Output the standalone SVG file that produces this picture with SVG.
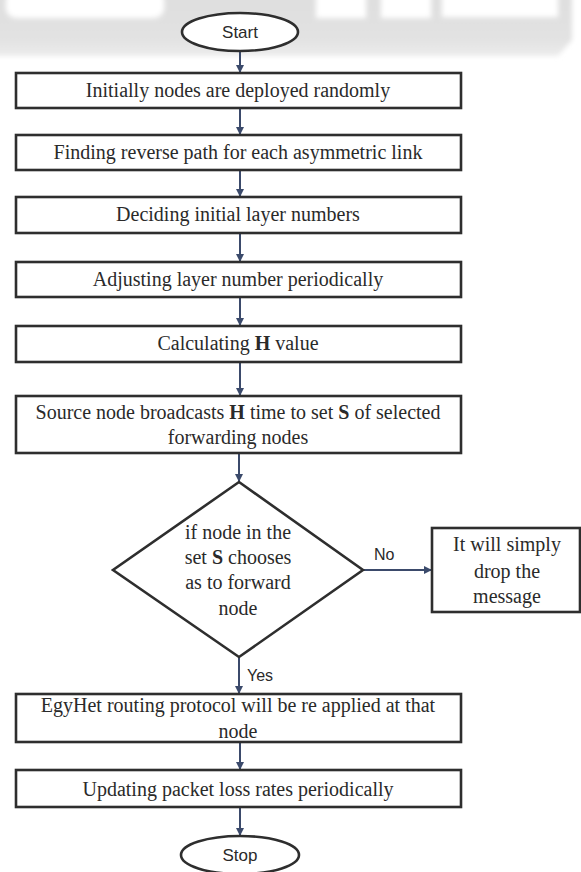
<svg xmlns="http://www.w3.org/2000/svg" width="581" height="872" viewBox="0 0 581 872">
<defs>
<style>
.box{fill:#fff;stroke:#2e2e2e;stroke-width:2.6}
.t{font-family:"Liberation Serif","Times New Roman",serif;font-size:20px;fill:#2a2a2a;text-anchor:middle}
.s{font-family:"Liberation Sans",Arial,sans-serif;font-size:17px;fill:#2a2a2a;text-anchor:middle}
.l{font-family:"Liberation Sans",Arial,sans-serif;font-size:16px;fill:#2a2a2a}
.c{fill:none;stroke:#3b4a6b;stroke-width:2}
</style>
<marker id="ah" viewBox="0 0 8 8" refX="8" refY="4" markerWidth="4" markerHeight="4" markerUnits="strokeWidth" orient="auto">
<path d="M0,0 L8,4 L0,8 z" fill="#3b4a6b"/>
</marker>
<filter id="blur" x="-10%" y="-50%" width="120%" height="200%"><feGaussianBlur stdDeviation="2.5"/></filter>
<linearGradient id="bandg" x1="0" y1="0" x2="0" y2="1">
<stop offset="0" stop-color="#dedede"/>
<stop offset="0.75" stop-color="#e2e2e2"/>
<stop offset="1" stop-color="#ececec"/>
</linearGradient>
</defs>
<rect width="581" height="872" fill="#fff"/>
<g id="band" filter="url(#blur)">
<path d="M-10,-10 H572 V40 L558,56 H-10 Z" fill="url(#bandg)"/>
<rect x="6" y="-10" width="158" height="28" rx="10" fill="#fff"/>
<rect x="316" y="-10" width="50" height="28" fill="#fff"/>
<rect x="381" y="-10" width="50" height="28" fill="#fff"/>
<rect x="442" y="-10" width="116" height="27" fill="#fff"/>
</g>
<g id="connectors">
<line class="c" x1="240" y1="51" x2="240" y2="73" marker-end="url(#ah)"/>
<line class="c" x1="240" y1="108" x2="240" y2="135" marker-end="url(#ah)"/>
<line class="c" x1="240" y1="170" x2="240" y2="197" marker-end="url(#ah)"/>
<line class="c" x1="240" y1="233" x2="240" y2="262" marker-end="url(#ah)"/>
<line class="c" x1="240" y1="297" x2="240" y2="326" marker-end="url(#ah)"/>
<line class="c" x1="240" y1="362" x2="240" y2="396" marker-end="url(#ah)"/>
<line class="c" x1="239" y1="453" x2="239" y2="482" marker-end="url(#ah)"/>
<line class="c" x1="363" y1="570" x2="432" y2="570" marker-end="url(#ah)"/>
<line class="c" x1="239" y1="657" x2="239" y2="694" marker-end="url(#ah)"/>
<line class="c" x1="240" y1="742" x2="240" y2="770" marker-end="url(#ah)"/>
<line class="c" x1="240" y1="807" x2="240" y2="836" marker-end="url(#ah)"/>
<text class="l" x="374" y="560">No</text>
<text class="l" x="247" y="681">Yes</text>
</g>
<g id="start">
<ellipse class="box" cx="240" cy="32" rx="58" ry="19"/>
<text class="s" x="240" y="38">Start</text>
</g>
<g id="n1">
<rect class="box" x="16" y="73" width="445" height="35"/>
<text class="t" x="238" y="97">Initially nodes are deployed randomly</text>
</g>
<g id="n2">
<rect class="box" x="16" y="135" width="445" height="35"/>
<text class="t" x="238" y="159">Finding reverse path for each asymmetric link</text>
</g>
<g id="n3">
<rect class="box" x="16" y="197" width="445" height="36"/>
<text class="t" x="238" y="221">Deciding initial layer numbers</text>
</g>
<g id="n4">
<rect class="box" x="16" y="262" width="445" height="35"/>
<text class="t" x="238" y="286">Adjusting layer number periodically</text>
</g>
<g id="n5">
<rect class="box" x="16" y="326" width="445" height="36"/>
<text class="t" x="238" y="350">Calculating <tspan font-weight="bold">H</tspan> value</text>
</g>
<g id="n6">
<rect class="box" x="16" y="396" width="445" height="57"/>
<text class="t" x="238" y="419">Source node broadcasts <tspan font-weight="bold">H</tspan> time to set <tspan font-weight="bold">S</tspan> of selected</text>
<text class="t" x="238" y="444">forwarding nodes</text>
</g>
<g id="decision">
<polygon class="box" points="239,482 363,570 239,657 113,570"/>
<text class="t" x="238" y="539">if node in the</text>
<text class="t" x="238" y="564">set <tspan font-weight="bold">S</tspan> chooses</text>
<text class="t" x="238" y="589">as to forward</text>
<text class="t" x="238" y="615">node</text>
</g>
<g id="drop">
<rect class="box" x="432" y="528" width="148" height="84"/>
<text class="t" x="507" y="551">It will simply</text>
<text class="t" x="507" y="578">drop the</text>
<text class="t" x="507" y="603">message</text>
</g>
<g id="n7">
<rect class="box" x="16" y="694" width="445" height="48"/>
<text class="t" x="238" y="712">EgyHet routing protocol will be re applied at that</text>
<text class="t" x="238" y="738">node</text>
</g>
<g id="n8">
<rect class="box" x="16" y="770" width="445" height="37"/>
<text class="t" x="238" y="796">Updating packet loss rates periodically</text>
</g>
<g id="stop">
<ellipse class="box" cx="240" cy="855" rx="59" ry="19"/>
<text class="s" x="240" y="861">Stop</text>
</g>
</svg>
